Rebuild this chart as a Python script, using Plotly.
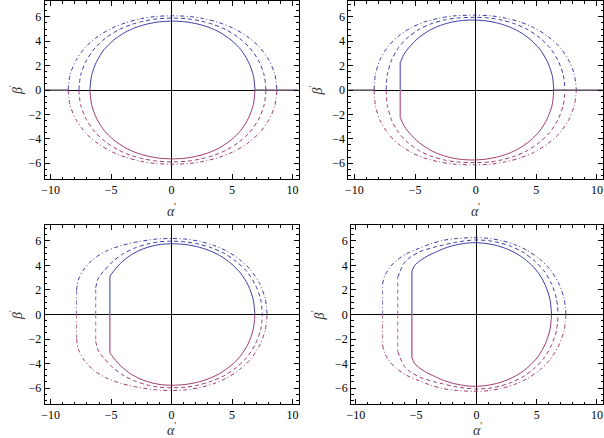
import plotly.graph_objects as go

# ---------------- data (upper half, beta >= 0; lower half is the mirror) ----------------
# Panel 1
p1_solid_a = [-6.76, -6.62, -6.21, -5.59, -4.78, -3.86, -2.94, -1.98, -1.02, 0.07, 1.16, 2.12, 3.08, 4.00, 4.92, 5.73, 6.35, 6.76, 6.90]
p1_solid_b = [0, 1.19, 2.32, 3.31, 4.10, 4.72, 5.14, 5.42, 5.59, 5.65, 5.59, 5.42, 5.14, 4.72, 4.10, 3.31, 2.32, 1.19, 0]
p1_dash_a = [-7.67, -7.52, -7.05, -6.34, -5.43, -4.39, -3.34, -2.26, -1.17, 0.065, 1.30, 2.39, 3.47, 4.52, 5.56, 6.47, 7.19, 7.65, 7.80]
p1_dash_b = [0, 1.24, 2.42, 3.45, 4.28, 4.93, 5.37, 5.66, 5.84, 5.90, 5.84, 5.66, 5.37, 4.93, 4.28, 3.45, 2.42, 1.24, 0]
p1_dd_a = [-8.56, -8.39, -7.87, -7.08, -6.06, -4.90, -3.72, -2.52, -1.31, 0.075, 1.46, 2.67, 3.88, 5.05, 6.21, 7.23, 8.02, 8.54, 8.71]
p1_dd_b = [0, 1.28, 2.50, 3.56, 4.42, 5.09, 5.54, 5.85, 6.03, 6.09, 6.03, 5.85, 5.54, 5.09, 4.42, 3.56, 2.50, 1.28, 0]
p1_axis_left = [-10.5, -8.56]
p1_axis_right = [6.90, 10.5]

# Panel 2
p2_solid_a = [-6.22, -6.22, -5.94, -5.61, -4.85, -3.99, -3.12, -2.22, -1.31, -0.30, 0.78, 1.72, 2.67, 3.58, 4.49, 5.28, 5.90, 6.31, 6.44]
p2_solid_b = [0, 2.25, 2.90, 3.36, 4.16, 4.79, 5.22, 5.51, 5.68, 5.74, 5.68, 5.51, 5.22, 4.79, 4.16, 3.36, 2.35, 1.21, 0]
p2_dash_a = [-7.39, -7.29, -6.95, -6.36, -5.58, -4.66, -3.70, -2.67, -1.56, -0.01, 1.17, 2.20, 3.24, 4.24, 5.23, 6.10, 6.78, 7.22, 7.37]
p2_dash_b = [0, 1.25, 2.44, 3.49, 4.32, 4.98, 5.42, 5.72, 5.90, 5.96, 5.90, 5.72, 5.42, 4.98, 4.32, 3.49, 2.44, 1.25, 0]
p2_dd_a = [-8.38, -8.27, -7.88, -7.21, -6.34, -5.29, -4.21, -3.04, -1.79, -0.04, 1.29, 2.46, 3.63, 4.76, 5.88, 6.87, 7.63, 8.13, 8.30]
p2_dd_b = [0, 1.29, 2.52, 3.59, 4.45, 5.13, 5.59, 5.89, 6.08, 6.14, 6.08, 5.89, 5.59, 5.13, 4.45, 3.59, 2.52, 1.29, 0]
p2_axis_left = [-10.5, -8.38]
p2_axis_right = [6.44, 10.5]

# Panel 3
p3_solid_a = [-5.11, -5.11, -4.92, -4.22, -3.42, -2.61, -1.78, -0.94, 0.00, 1.10, 2.07, 3.03, 3.97, 4.89, 5.70, 6.34, 6.75, 6.89]
p3_solid_b = [0, 3.10, 3.38, 4.18, 4.82, 5.25, 5.54, 5.71, 5.77, 5.71, 5.54, 5.25, 4.82, 4.18, 3.38, 2.37, 1.21, 0]
p3_dash_a = [-6.28, -6.28, -6.04, -5.65, -4.85, -3.93, -3.00, -2.05, -1.09, 0.00, 1.20, 2.25, 3.30, 4.33, 5.33, 6.22, 6.91, 7.36, 7.51]
p3_dash_b = [0, 2.20, 3.00, 3.50, 4.34, 5.00, 5.44, 5.74, 5.92, 5.98, 5.92, 5.74, 5.44, 5.00, 4.34, 3.50, 2.45, 1.26, 0]
p3_dd_a = [-7.87, -7.86, -7.72, -7.30, -6.50, -5.40, -4.10, -2.70, -1.35, 0.00, 1.26, 2.37, 3.48, 4.55, 5.61, 6.54, 7.27, 7.74, 7.90]
p3_dd_b = [0, 2.00, 2.80, 3.63, 4.50, 5.18, 5.64, 5.95, 6.14, 6.20, 6.14, 5.95, 5.64, 5.18, 4.50, 3.63, 2.54, 1.30, 0]

# Panel 4
p4_solid_a = [-5.36, -5.36, -5.14, -4.59, -4.04, -3.22, -2.81, -2.00, -1.10, -0.30, 0.74, 1.66, 2.57, 3.46, 4.34, 5.11, 5.71, 6.10, 6.23]
p4_solid_b = [0, 3.50, 3.99, 4.45, 4.78, 5.16, 5.34, 5.60, 5.78, 5.86, 5.80, 5.63, 5.33, 4.89, 4.25, 3.43, 2.40, 1.23, 0]
p4_dash_a = [-6.53, -6.53, -6.37, -5.96, -5.41, -4.59, -3.50, -2.81, -1.80, -0.80, -0.10, 1.00, 1.96, 2.93, 3.86, 4.78, 5.60, 6.23, 6.64, 6.78]
p4_dash_b = [0, 3.03, 3.44, 4.26, 4.73, 5.16, 5.49, 5.65, 5.88, 6.02, 6.08, 6.02, 5.84, 5.53, 5.08, 4.41, 3.56, 2.49, 1.28, 0]
p4_dd_a = [-7.79, -7.79, -7.60, -7.19, -6.64, -5.82, -4.86, -3.77, -2.81, -1.80, -0.20, 1.02, 2.09, 3.15, 4.19, 5.21, 6.11, 6.81, 7.27, 7.42]
p4_dd_b = [0, 2.50, 3.17, 3.85, 4.40, 4.95, 5.36, 5.77, 6.04, 6.18, 6.27, 6.21, 6.02, 5.71, 5.24, 4.55, 3.67, 2.57, 1.32, 0]

x_ticks = [-10, -5, 0, 5, 10]
y_ticks = [-6, -4, -2, 0, 2, 4, 6]

# ---------------- styling ----------------
UPPER = "#3c3ca8"
LOWER = "#a03a6e"
UPPER_V = "#8080c8"
LOWER_V = "#c07898"
GREYSEG = "#857488"
DASHES = {"solid": "solid", "dash": "4px,3px", "dd": "4px,2.5px,1px,2.5px"}

# (alpha, beta, style, straight_start)  straight_start: first segment is a straight vertical edge
panels = [
    dict(curves=[(p1_solid_a, p1_solid_b, "solid", False), (p1_dash_a, p1_dash_b, "dash", False), (p1_dd_a, p1_dd_b, "dd", False)],
         segs=[p1_axis_left, p1_axis_right],
         xdom=[40 / 604, 296 / 604], ydom=[1 - 179 / 438, 1 - 1 / 438], xr=[-10.5, 10.5]),
    dict(curves=[(p2_solid_a, p2_solid_b, "solid", True), (p2_dash_a, p2_dash_b, "dash", False), (p2_dd_a, p2_dd_b, "dd", False)],
         segs=[p2_axis_left, p2_axis_right],
         xdom=[346.3 / 604, 603 / 604], ydom=[1 - 179 / 438, 1 - 1 / 438], xr=[-10.5, 10.5]),
    dict(curves=[(p3_solid_a, p3_solid_b, "solid", True), (p3_dash_a, p3_dash_b, "dash", True), (p3_dd_a, p3_dd_b, "dd", True)],
         segs=[],
         xdom=[40 / 604, 296 / 604], ydom=[1 - 404 / 438, 1 - 225 / 438], xr=[-10.5, 10.5]),
    dict(curves=[(p4_solid_a, p4_solid_b, "solid", True), (p4_dash_a, p4_dash_b, "dash", True), (p4_dd_a, p4_dd_b, "dd", True)],
         segs=[],
         xdom=[349 / 604, 603 / 604], ydom=[1 - 404 / 438, 1 - 225 / 438], xr=[-10.4, 10.5]),
]

fig = go.Figure()
tickfont = dict(family="Liberation Serif", size=12, color="black")


def add_line(x, y, xref, yref, color, dash, shape, width=1.0):
    fig.add_trace(go.Scatter(x=x, y=y, mode="lines", xaxis=xref, yaxis=yref,
                             line=dict(color=color, width=width, dash=dash, shape=shape,
                                       **({"smoothing": 0.8} if shape == "spline" else {})),
                             hoverinfo="skip", showlegend=False))


for i, p in enumerate(panels):
    k = "" if i == 0 else str(i + 1)
    xref, yref = "x" + k, "y" + k
    for seg in p["segs"]:
        add_line(seg, [0, 0], xref, yref, GREYSEG, "solid", "linear", 1.4)
    for a, b, style, straight in p["curves"]:
        nb = [-v for v in b]
        d = DASHES[style]
        if straight:
            wv = 1.6 if style == "solid" else 1.1
            add_line(a[:2], b[:2], xref, yref, UPPER_V, d, "linear", wv)
            add_line(a[:2], nb[:2], xref, yref, LOWER_V, d, "linear", wv)
            add_line(a[1:], b[1:], xref, yref, UPPER, d, "spline")
            add_line(a[1:], nb[1:], xref, yref, LOWER, d, "spline")
        else:
            add_line(a, b, xref, yref, UPPER, d, "spline")
            add_line(a, nb, xref, yref, LOWER, d, "spline")
    common = dict(showline=True, linecolor="black", linewidth=1, mirror="allticks",
                  ticks="inside", tickcolor="black", tickwidth=1, ticklen=5,
                  showgrid=False, zeroline=True, zerolinecolor="black", zerolinewidth=1.3,
                  tickfont=tickfont)
    fig.layout["xaxis" + k] = dict(common, domain=p["xdom"], range=p["xr"], anchor=yref,
                                   tickmode="array", tickvals=x_ticks,
                                   minor=dict(dtick=1, tick0=0, ticklen=2.5, ticks="inside", tickcolor="black"))
    fig.layout["yaxis" + k] = dict(common, domain=p["ydom"], range=[-7.3, 7.3], anchor=xref,
                                   tickmode="array", tickvals=y_ticks,
                                   minor=dict(dtick=0.5, tick0=0, ticklen=2.5, ticks="inside", tickcolor="black"))

# axis titles
lab_font = dict(family="Liberation Serif", size=14, color="#333333")
annots = []
for (cx, cy) in [(168, 210), (474, 210), (168, 429), (476, 429)]:
    annots.append(dict(text="<i>α</i><sup>'</sup>", x=cx / 604, y=1 - cy / 438, xref="paper", yref="paper",
                       showarrow=False, font=lab_font, xanchor="center", yanchor="middle"))
for (cx, cy) in [(11, 90), (314, 90), (11, 315), (316, 315)]:
    annots.append(dict(text="<i>β</i><sup>'</sup>", x=cx / 604, y=1 - cy / 438, xref="paper", yref="paper",
                       showarrow=False, font=lab_font, textangle=-90, xanchor="center", yanchor="middle"))

fig.update_layout(width=604, height=438, margin=dict(l=0, r=0, t=0, b=0),
                  paper_bgcolor="white", plot_bgcolor="white", annotations=annots)

fig.write_html("out.html", config={"displayModeBar": False},
               post_script="document.body.style.margin='0';document.body.style.padding='0';"
                           "document.documentElement.style.overflow='hidden';")
